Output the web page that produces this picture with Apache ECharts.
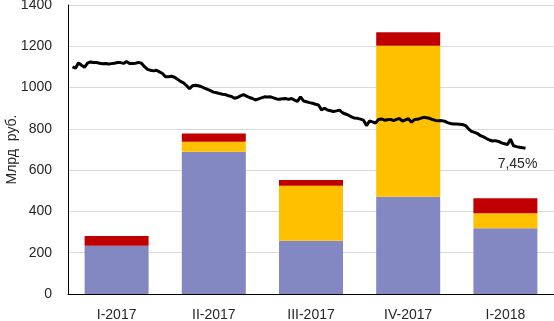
<!DOCTYPE html>
<html>
<head>
<meta charset="utf-8">
<script src="https://cdn.jsdelivr.net/npm/echarts@6/dist/echarts.min.js"></script>
<style>
  html, body { margin: 0; padding: 0; background: #fff; }
  #chart { width: 554px; height: 321px; }
</style>
</head>
<body>
<div id="chart"></div>
<script>
  // quarters
  var categories = ['I-2017', 'II-2017', 'III-2017', 'IV-2017', 'I-2018']
  var partBlue = [234, 689, 258, 471, 318]
  var partYellow = [0, 49, 267, 731, 73]
  var partRed = [47, 40, 27, 66, 73]

  var yTicks = [0, 200, 400, 600, 800, 1000, 1200, 1400]
  var yName = 'Млрд  руб.'
  var lastLabel = '7,45%'

  // daily line, null where there is no data
  var lineValues = [null,
    1100, 1094, 1120, 1108, 1098, 1118, 1124, 1121, 1121, 1118,
    1115, 1117, 1114, 1116, 1118, 1121, 1121, 1117, 1126, 1117,
    1117, 1118, 1122, 1118, 1101, 1088, 1084, 1081, 1084, 1076,
    1068, 1052, 1052, 1055, 1050, 1040, 1030, 1023, 1010, 994,
    1009, 1011, 1009, 1004, 997, 991, 985, 978, 975, 971,
    968, 966, 960, 957, 948, 952, 960, 966, 959, 952,
    947, 940, 945, 950, 955, 954, 955, 950, 945, 943,
    946, 947, 943, 947, 939, 933, 955, 935, 931, 927,
    924, 919, 916, 892, 900, 891, 888, 884, 887, 891,
    878, 872, 866, 858, 852, 851, 847, 842, 816, 838,
    834, 828, 845, 848, 842, 844, 846, 840, 846, 850,
    837, 843, 849, 832, 845, 846, 851, 856, 854, 851,
    845, 841, 839, 840, 837, 830, 826, 824, 823, 822,
    821, 816, 800, 788, 783, 777, 767, 761, 753, 746,
    741, 743, 739, 732, 728, 724, 750, 718, 714, 711,
    709, 706,
    null, null, null, null, null, null, null, null, null]

  var chart = echarts.init(document.getElementById('chart'))

  var lastIdx = 0
  lineValues.forEach(function (v, i) { if (v != null) lastIdx = i })

  var font = 'Liberation Sans'

  chart.setOption({
    backgroundColor: '#fff',
    animation: false,
    grid: {
      left: 68,
      right: 0,
      top: 5,
      bottom: 27,
      containLabel: false,
      outerBoundsMode: 'none'
    },
    xAxis: [{
      type: 'category',
      data: categories,
      axisLine: { lineStyle: { color: '#000', width: 1 } },
      axisTick: { show: false },
      axisLabel: { margin: 14, fontSize: 14, color: '#262626', fontFamily: font }
    }, {
      type: 'category',
      show: false,
      boundaryGap: true,
      data: lineValues.map(function (v, i) { return i })
    }],
    yAxis: [{
      type: 'value',
      min: yTicks[0],
      max: yTicks[yTicks.length - 1],
      interval: 200,
      name: yName,
      nameLocation: 'middle',
      nameGap: 49,
      nameMoveOverlap: false,
      nameTextStyle: { fontSize: 14, color: '#262626', fontFamily: font },
      axisLine: { show: true, lineStyle: { color: '#000', width: 1 } },
      axisTick: { show: false },
      axisLabel: {
        margin: 16, fontSize: 14, color: '#262626', fontFamily: font,
        formatter: function (v) { return String(v) }
      },
      splitLine: { lineStyle: { color: '#D9D9D9', width: 1 } }
    }],
    series: [{
      type: 'bar',
      stack: 'q',
      barWidth: 64,
      itemStyle: { color: '#8388C3' },
      data: partBlue
    }, {
      type: 'bar',
      stack: 'q',
      barWidth: 64,
      itemStyle: { color: '#FFC000' },
      data: partYellow
    }, {
      type: 'bar',
      stack: 'q',
      barWidth: 64,
      itemStyle: { color: '#C00000' },
      data: partRed
    }, {
      type: 'line',
      xAxisIndex: 1,
      yAxisIndex: 0,
      z: 5,
      symbol: 'none',
      smooth: false,
      connectNulls: false,
      lineStyle: { color: '#000', width: 3 },
      data: lineValues,
      markPoint: {
        symbol: 'circle',
        symbolSize: 0,
        label: {
          show: true,
          formatter: lastLabel,
          position: 'bottom',
          distance: 5,
          offset: [-8, 4],
          fontSize: 14,
          color: '#262626',
          fontFamily: font
        },
        data: [{ coord: [lastIdx, lineValues[lastIdx]] }]
      }
    }]
  })
</script>
</body>
</html>
